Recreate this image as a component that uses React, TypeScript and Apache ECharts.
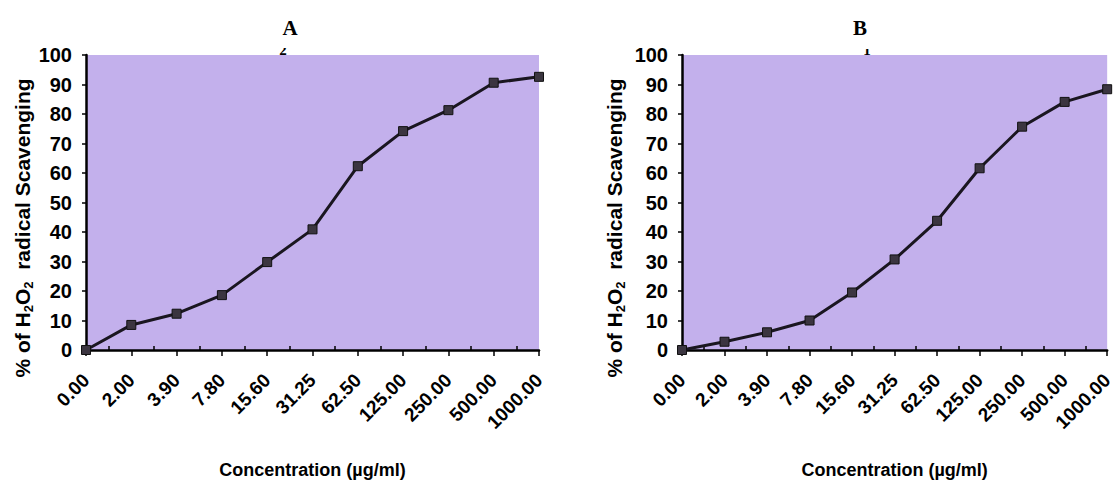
import React, { useEffect, useRef } from "react";
import * as echarts from "echarts";

const categories = ["0.00", "2.00", "3.90", "7.80", "15.60", "31.25", "62.50", "125.00", "250.00", "500.00", "1000.00"];
const midTicks = ["m1", "m2", "m3", "m4", "m5", "m6", "m7", "m8", "m9", "m10"];
const seriesA = [0, 8.5, 12.3, 18.6, 29.8, 40.9, 62.3, 74.2, 81.3, 90.6, 92.6];
const seriesB = [0, 2.8, 6.0, 10.0, 19.5, 30.7, 43.8, 61.6, 75.7, 84.1, 88.4];
const yTicks = { min: 0, max: 100, interval: 10 };

const FONT = "'Liberation Sans', Arial, sans-serif";
const SERIF = "'Liberation Serif', 'Times New Roman', serif";
const PURPLE = "#c3b0ec";

export default function App() {
  const ref = useRef<HTMLDivElement>(null);
  useEffect(() => {
    if (!ref.current) return;
    const chart = echarts.init(ref.current, undefined, { renderer: "svg" });
    const grids = [
      { left: 86, top: 55, width: 453, height: 300 },
      { left: 682, top: 55, width: 430, height: 300 },
    ];
    const xMain = (gi: number) => ({
      type: "category",
      gridIndex: gi,
      data: categories,
      boundaryGap: false,
      position: "bottom",
      axisLine: { show: true, lineStyle: { color: "#000", width: 2.5 } },
      axisTick: { show: true, inside: false, length: 6, lineStyle: { color: "#000", width: 1.5 } },
      axisLabel: {
        rotate: 45,
        interval: 0,
        margin: 27,
        color: "#000",
        fontSize: 19,
        fontWeight: "bold",
        fontFamily: FONT,
      },
      splitLine: { show: false },
      name: "Concentration (µg/ml)",
      nameLocation: "middle",
      nameGap: 111,
      nameTextStyle: { color: "#000", fontSize: 18, fontWeight: "bold", fontFamily: FONT },
    });
    const xMinor = (gi: number) => ({
      type: "category",
      gridIndex: gi,
      data: midTicks,
      boundaryGap: true,
      position: "bottom",
      offset: 0,
      axisLine: { show: false },
      axisTick: { show: true, inside: true, alignWithLabel: true, length: 4, lineStyle: { color: "#000", width: 1.5 } },
      axisLabel: { show: false },
      splitLine: { show: false },
    });
    const yAx = (gi: number) => ({
      type: "value",
      gridIndex: gi,
      min: yTicks.min,
      max: yTicks.max,
      interval: yTicks.interval,
      axisLine: { show: true, lineStyle: { color: "#000", width: 2.5 } },
      axisTick: { show: true, inside: false, length: 4, lineStyle: { color: "#000", width: 1.5 } },
      axisLabel: { color: "#000", fontSize: 20, fontWeight: "bold", fontFamily: FONT, margin: 14 },
      splitLine: { show: false },
    });
    const lineSeries = (gi: number, data: number[]) => ({
      type: "line",
      xAxisIndex: gi * 2,
      yAxisIndex: gi,
      data,
      symbol: "rect",
      symbolSize: 9,
      itemStyle: { color: "#3b3540", borderColor: "#111", borderWidth: 1 },
      lineStyle: { color: "#1a1620", width: 3 },
      z: 5,
    });
    const yTitle = (x: number) => ({
      type: "text",
      x,
      y: 228,
      rotation: Math.PI / 2,
      style: {
        text: "{a|% of H}{s|2}{a|O}{s|2}{a|  radical Scavenging}",
        align: "center",
        verticalAlign: "middle",
        rich: {
          a: { fontSize: 21, fontWeight: "bold", fontFamily: FONT, fill: "#000", lineHeight: 25, verticalAlign: "middle" },
          s: { fontSize: 13, fontWeight: "bold", fontFamily: FONT, fill: "#000", lineHeight: 13, verticalAlign: "bottom" },
        },
      },
    });
    chart.setOption({
      animation: false,
      backgroundColor: "#fff",
      grid: grids.map((g) => ({ ...g, show: true, backgroundColor: PURPLE, borderWidth: 0 })),
      xAxis: [xMain(0), xMinor(0), xMain(1), xMinor(1)],
      yAxis: [yAx(0), yAx(1)],
      series: [lineSeries(0, seriesA), lineSeries(1, seriesB)],
      graphic: [
        { type: "text", x: 290, y: 28, style: { text: "A", fontSize: 21, fontWeight: "bold", fontFamily: SERIF, fill: "#000", align: "center", verticalAlign: "middle" } },
        { type: "text", x: 860, y: 28, style: { text: "B", fontSize: 21, fontWeight: "bold", fontFamily: SERIF, fill: "#000", align: "center", verticalAlign: "middle" } },
        { type: "text", x: 283, y: 57, style: { text: "2", fontSize: 15, fontWeight: "bold", fontFamily: SERIF, fill: "#000", align: "center", verticalAlign: "bottom" } },
        { type: "text", x: 867, y: 57, style: { text: "1", fontSize: 15, fontWeight: "bold", fontFamily: SERIF, fill: "#000", align: "center", verticalAlign: "bottom" } },
        { type: "rect", shape: { x: 270, y: 38, width: 26, height: 10 }, style: { fill: "#fff" } },
        { type: "rect", shape: { x: 854, y: 38, width: 26, height: 11 }, style: { fill: "#fff" } },
        yTitle(22),
        yTitle(614),
      ],
    });
    return () => chart.dispose();
  }, []);
  return <div ref={ref} style={{ position: "fixed", left: 0, top: 0, width: 1116, height: 484 }} />;
}
